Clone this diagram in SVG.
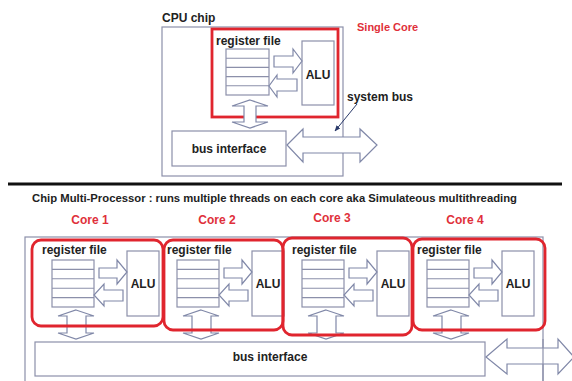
<svg xmlns="http://www.w3.org/2000/svg" xmlns:xlink="http://www.w3.org/1999/xlink" width="572" height="381" viewBox="0 0 572 381">
<style>
.bg{fill:#ffffff}
.box{fill:#ffffff;stroke:#8c90aa;stroke-width:1.2}
.arr{fill:#ffffff;stroke:#8088a8;stroke-width:1.2;stroke-linejoin:miter}
.row{stroke:#8c90aa;stroke-width:1.1;fill:none}
.red{fill:none;stroke:#e0252e;stroke-width:2.8}
.t{font-family:"Liberation Sans",Arial,sans-serif;font-weight:bold;fill:#222222}
.rt{font-family:"Liberation Sans",Arial,sans-serif;font-weight:bold;fill:#e0303a}
</style>
<defs>
<marker id="ptr" viewBox="0 0 10 10" refX="9" refY="5" markerWidth="6" markerHeight="6" orient="auto">
<path d="M0,1 L10,5 L0,9 z" fill="#2a3a6a"/>
</marker>
<g id="core">
<text class="t" x="0" y="254" font-size="12">register file</text>
<rect class="box" x="10" y="260" width="42" height="47"/>
<path class="row" d="M10,269.4H52M10,278.8H52M10,288.2H52M10,297.6H52"/>
<rect class="box" x="85" y="251" width="32" height="65"/>
<text class="t" x="101" y="288" font-size="12" text-anchor="middle">ALU</text>
<polygon class="arr" points="57,268 75,268 75,260 85,272 75,284 75,278 57,278"/>
<polygon class="arr" points="81,290 62,290 62,284 52,295 62,306 62,301 81,301"/>
<polygon class="arr" points="34,310 52,316 44,316 44,333 52,333 34,339 16,333 25,333 25,316 16,316"/>
</g>
</defs>
<rect class="bg" x="0" y="0" width="572" height="381"/>

<g id="cpu-chip">
<rect class="box" x="162" y="27" width="181" height="149"/>
<text class="t" x="162" y="22" font-size="12">CPU chip</text>
</g>
<g id="single-core-label">
<text class="rt" x="357" y="31" font-size="11">Single Core</text>
</g>
<g id="single-core">
<rect class="red" x="212" y="29" width="126" height="88"/>
<text class="t" x="216" y="45" font-size="12">register file</text>
<rect class="box" x="226" y="49" width="43" height="46"/>
<path class="row" d="M226,58.2H269M226,67.4H269M226,76.6H269M226,85.8H269"/>
<rect class="box" x="302" y="41" width="32" height="64"/>
<text class="t" x="318" y="79" font-size="12" text-anchor="middle">ALU</text>
</g>
<g id="bus-interface-top">
<rect class="box" x="172" y="131" width="114" height="35"/>
<text class="t" x="229" y="153" font-size="12" text-anchor="middle">bus interface</text>
</g>
<g id="system-bus-label">
<text class="t" x="347" y="101" font-size="12">system bus</text>
</g>

<g id="top-connectors">
<polygon class="arr" points="274,56 293,56 293,49 302,61 293,73 293,67 274,67"/>
<polygon class="arr" points="297,79 277,79 277,75 269,86 277,97 277,91 297,91"/>
<polygon class="arr" points="250,100 268,106 256,106 256,122 268,122 250,128 232,122 244,122 244,106 232,106"/>
<polygon class="arr" points="287,145 303,129 303,137 360,137 360,129 377,145 360,162 360,153 303,153 303,162"/>
<line x1="357" y1="104" x2="335" y2="131" stroke="#2a3a6a" stroke-width="1" marker-end="url(#ptr)"/>
</g>

<g id="divider">
<line x1="8" y1="184" x2="562" y2="184" stroke="#111111" stroke-width="3"/>
</g>
<g id="cmp-title">
<text class="t" x="32" y="202" font-size="10" textLength="485" lengthAdjust="spacingAndGlyphs">Chip Multi-Processor : runs multiple threads on each core  aka Simulateous multithreading</text>
</g>

<g id="cmp-chip">
<rect class="box" x="25" y="237" width="518" height="160"/>
</g>

<g id="core-labels">
<text class="rt" x="90" y="224" font-size="12" text-anchor="middle">Core 1</text>
<text class="rt" x="217" y="224" font-size="12" text-anchor="middle">Core 2</text>
<text class="rt" x="332" y="222" font-size="12" text-anchor="middle">Core 3</text>
<text class="rt" x="465" y="224" font-size="12" text-anchor="middle">Core 4</text>
</g>

<g id="core1">
<use xlink:href="#core" transform="translate(42,0)"/>
<rect class="red" x="32" y="240" width="131" height="86" rx="9"/>
</g>
<g id="core2">
<use xlink:href="#core" transform="translate(167,0)"/>
<rect class="red" x="164" y="240" width="119" height="90" rx="9"/>
</g>
<g id="core3">
<use xlink:href="#core" transform="translate(292,0)"/>
<rect class="red" x="283" y="238" width="129" height="97" rx="9"/>
</g>
<g id="core4">
<use xlink:href="#core" transform="translate(417,0)"/>
<rect class="red" x="413" y="239" width="132" height="91" rx="9"/>
</g>

<g id="bus-interface-bottom">
<rect class="box" x="35" y="342" width="450" height="34"/>
<text class="t" x="270" y="361" font-size="12" text-anchor="middle">bus interface</text>
</g>

<g id="bottom-connectors">
<polygon class="arr" points="486,357 507,339 507,348 558,348 558,339 574,357 558,374 558,364 507,364 507,374"/>
<line x1="543" y1="339" x2="543" y2="381" stroke="#8c90aa" stroke-width="1.2"/>
</g>
</svg>
